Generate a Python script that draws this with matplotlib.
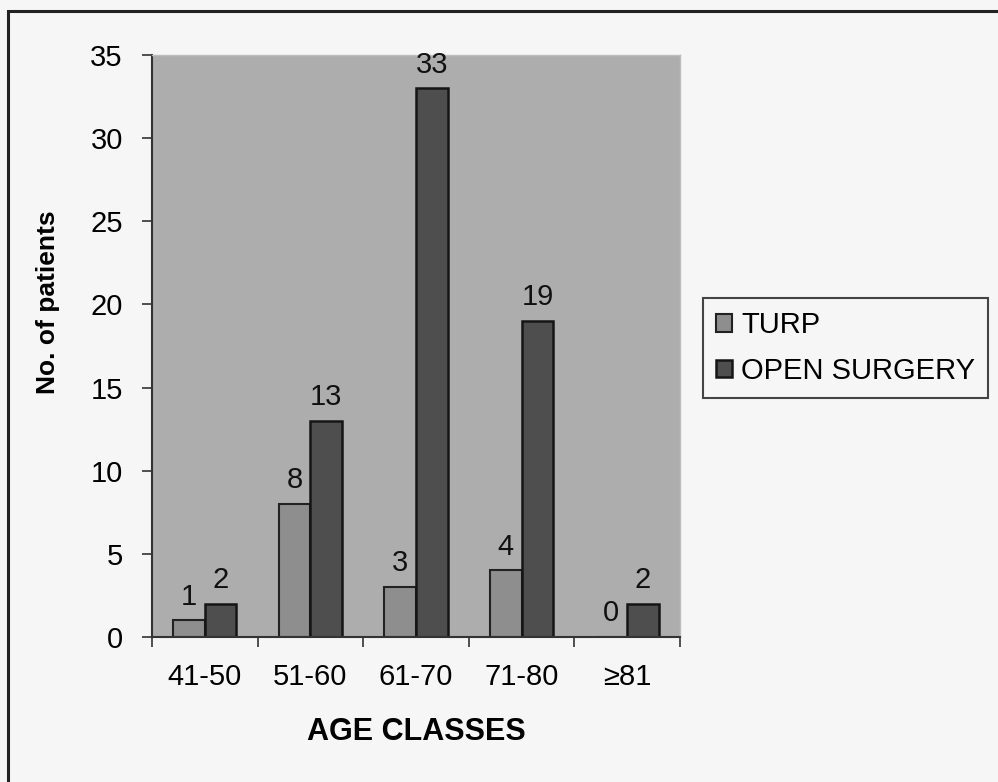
import numpy as np
import matplotlib
matplotlib.use("Agg")
import matplotlib.pyplot as plt
from matplotlib.patches import Rectangle

plt.rcParams['font.family'] = ['Liberation Sans', 'DejaVu Sans']

# data
age_classes = ["41-50", "51-60", "61-70", "71-80", "\u226581"]
turp = [1, 8, 3, 4, 0]
open_surgery = [2, 13, 33, 19, 2]

bg_fig = "#f6f6f6"
bg_plot = "#adadad"
c_turp = "#8e8e8e"
c_open = "#4e4e4e"

fig = plt.figure(figsize=(9.98, 7.82), dpi=100, facecolor=bg_fig)
ax = fig.add_axes([152/998, 1-637/782, 528/998, 582/782])
ax.set_facecolor(bg_plot)

x = np.arange(len(age_classes))
w = 0.30
b1 = ax.bar(x - w/2, turp, w, color=c_turp, edgecolor="#222222", linewidth=1.5, label="TURP")
b2 = ax.bar(x + w/2, open_surgery, w, color=c_open, edgecolor="#151515", linewidth=1.8, label="OPEN SURGERY")

for bars, vals in [(b1, turp), (b2, open_surgery)]:
  for r, v in zip(bars, vals):
    ax.annotate(str(v), (r.get_x() + r.get_width()/2, r.get_height()),
                xytext=(0, 7), textcoords="offset points",
                ha="center", va="bottom", fontsize=21, color="#111111")

ax.set_xlim(-0.5, 4.5)
ax.set_ylim(0, 35)
ax.set_yticks(np.arange(0, 36, 5))
ax.set_xticks(x)
ax.set_xticklabels(age_classes)
ax.set_xticks(np.arange(-0.5, 4.6, 1), minor=True)
ax.tick_params(axis="x", which="major", length=0, pad=19, labelsize=21)
ax.tick_params(axis="x", which="minor", length=7, width=1.2, color="#333333")
ax.tick_params(axis="y", length=7, width=1.2, color="#333333", pad=14, labelsize=21)

for s in ["top", "right"]:
  ax.spines[s].set_color("#bdbdbd")
  ax.spines[s].set_linewidth(1)
for s in ["left", "bottom"]:
  ax.spines[s].set_color("#333333")
  ax.spines[s].set_linewidth(1.5)

ax.set_ylabel("No. of patients", fontsize=19, fontweight="bold")
ax.yaxis.set_label_coords(-0.174, 0.576)
ax.set_xlabel("AGE CLASSES", fontsize=22, fontweight="bold")
ax.xaxis.set_label_coords(0.5, -0.137)

leg = fig.legend(handles=[b1, b2], loc="upper left",
                 bbox_to_anchor=(703/998, 1-298/782), fontsize=21,
                 frameon=True, fancybox=False, edgecolor="#444444",
                 facecolor=bg_fig, framealpha=1,
                 handlelength=0.55, handleheight=0.55, handletextpad=0.3,
                 borderpad=0.45, labelspacing=0.6, borderaxespad=0)
leg.get_frame().set_linewidth(1.5)

# outer chart frame
fig.patches.append(Rectangle((8/998, -0.1), 1.1, 1.1 - 11/782,
                             transform=fig.transFigure, fill=False,
                             edgecolor="#222222", linewidth=2.2))

fig.savefig("out.png", dpi=100, facecolor=bg_fig)
